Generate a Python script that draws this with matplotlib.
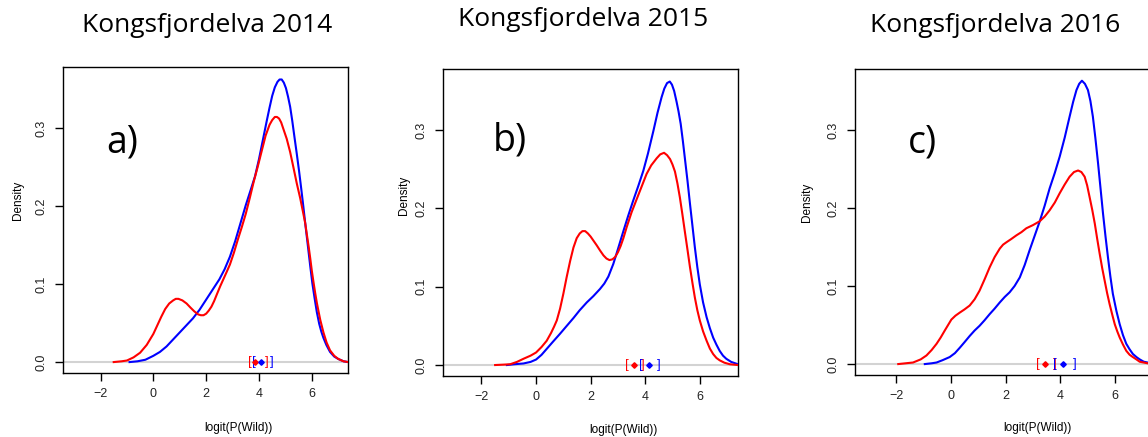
import matplotlib
matplotlib.use("Agg")
import matplotlib.pyplot as plt

W, H = 1148, 437

titles = ["Kongsfjordelva 2014", "Kongsfjordelva 2015", "Kongsfjordelva 2016"]
panel_tags = ["a)", "b)", "c)"]

# density curves (x, density)
blue_a_x = [-0.9, -0.6, -0.3, 0.0, 0.25, 0.5, 0.75, 1.0, 1.25, 1.5, 1.75, 2.0, 2.25, 2.5, 2.7,
            2.9, 3.1, 3.3, 3.5, 3.7, 3.85, 4.0, 4.15, 4.3, 4.4, 4.5, 4.6, 4.7, 4.78, 4.86, 4.94,
            5.02, 5.1, 5.18, 5.26, 5.34, 5.43, 5.52, 5.6, 5.68, 5.76, 5.84, 5.94, 6.02, 6.1,
            6.19, 6.28, 6.36, 6.44, 6.55, 6.69, 6.85, 7.0, 7.2, 7.38]
blue_a_y = [0.0, 0.001, 0.003, 0.008, 0.013, 0.020, 0.029, 0.038, 0.047, 0.056, 0.067, 0.080,
            0.093, 0.106, 0.119, 0.135, 0.155, 0.178, 0.201, 0.222, 0.238, 0.260, 0.285, 0.310,
            0.326, 0.341, 0.352, 0.359, 0.362, 0.362, 0.358, 0.351, 0.340, 0.327, 0.309, 0.289,
            0.267, 0.244, 0.222, 0.199, 0.175, 0.152, 0.123, 0.101, 0.083, 0.064, 0.049, 0.039,
            0.031, 0.022, 0.013, 0.007, 0.004, 0.001, 0.0]
red_a_x = [-1.5, -1.2, -1.0, -0.75, -0.5, -0.25, 0.0, 0.15, 0.3, 0.45, 0.6, 0.75, 0.85, 0.95,
           1.1, 1.26, 1.4, 1.55, 1.7, 1.8, 1.9, 2.0, 2.1, 2.2, 2.3, 2.42, 2.53, 2.65, 2.77, 2.9,
           3.05, 3.2, 3.35, 3.5, 3.65, 3.8, 3.95, 4.1, 4.25, 4.4, 4.5, 4.6, 4.68, 4.76, 4.84,
           4.92, 5.05, 5.18, 5.3, 5.43, 5.56, 5.68, 5.75, 5.81, 5.88, 5.94, 6.0, 6.07, 6.13,
           6.19, 6.26, 6.32, 6.44, 6.56, 6.69, 6.85, 7.0, 7.2, 7.38]
red_a_y = [0.0, 0.001, 0.002, 0.006, 0.012, 0.022, 0.036, 0.047, 0.058, 0.068, 0.075, 0.079,
           0.081, 0.081, 0.079, 0.075, 0.070, 0.065, 0.061, 0.060, 0.060, 0.062, 0.066, 0.071,
           0.078, 0.088, 0.097, 0.106, 0.115, 0.125, 0.140, 0.157, 0.173, 0.190, 0.210, 0.231,
           0.250, 0.270, 0.290, 0.304, 0.310, 0.314, 0.314, 0.312, 0.307, 0.299, 0.286, 0.269,
           0.250, 0.229, 0.210, 0.190, 0.178, 0.164, 0.148, 0.133, 0.117, 0.101, 0.088, 0.076,
           0.064, 0.054, 0.038, 0.025, 0.015, 0.008, 0.004, 0.001, 0.0]

blue_b_x = [-1.07, -0.8, -0.46, -0.2, 0.0, 0.2, 0.4, 0.6, 0.88, 1.1, 1.37, 1.6, 1.86, 2.1,
            2.34, 2.5, 2.65, 2.83, 3.0, 3.2, 3.38, 3.56, 3.75, 3.93, 4.1, 4.3, 4.45, 4.6, 4.7,
            4.8, 4.9, 4.98, 5.06, 5.15, 5.22, 5.3, 5.38, 5.45, 5.55, 5.64, 5.73, 5.82, 5.91, 6.0,
            6.12, 6.25, 6.37, 6.49, 6.61, 6.73, 6.85, 6.97, 7.15, 7.4]
blue_b_y = [0.0, 0.001, 0.002, 0.004, 0.007, 0.013, 0.021, 0.029, 0.040, 0.049, 0.060, 0.070,
            0.080, 0.088, 0.097, 0.104, 0.113, 0.129, 0.148, 0.171, 0.191, 0.210, 0.229, 0.248,
            0.270, 0.299, 0.322, 0.342, 0.353, 0.360, 0.362, 0.358, 0.350, 0.336, 0.324, 0.308,
            0.286, 0.265, 0.235, 0.206, 0.178, 0.150, 0.125, 0.103, 0.080, 0.061, 0.047, 0.035,
            0.026, 0.018, 0.012, 0.008, 0.004, 0.001]
red_b_x = [-1.5, -1.2, -0.95, -0.7, -0.46, -0.2, 0.0, 0.2, 0.39, 0.55, 0.66, 0.76, 0.88, 1.0,
           1.12, 1.25, 1.37, 1.49, 1.6, 1.7, 1.8, 1.9, 2.0, 2.1, 2.22, 2.35, 2.47, 2.58, 2.69,
           2.8, 2.9, 3.0, 3.1, 3.2, 3.32, 3.5, 3.69, 3.87, 4.05, 4.22, 4.42, 4.55, 4.69, 4.8,
           4.91, 5.0, 5.09, 5.18, 5.27, 5.36, 5.45, 5.55, 5.64, 5.73, 5.82, 5.91, 6.0, 6.12,
           6.25, 6.37, 6.49, 6.61, 6.73, 6.9, 7.1, 7.4]
red_b_y = [0.0, 0.0005, 0.001, 0.004, 0.008, 0.012, 0.016, 0.023, 0.031, 0.041, 0.049, 0.057,
           0.072, 0.091, 0.112, 0.133, 0.150, 0.162, 0.168, 0.171, 0.171, 0.168, 0.164, 0.159,
           0.153, 0.146, 0.140, 0.136, 0.134, 0.135, 0.138, 0.144, 0.152, 0.162, 0.176, 0.195,
           0.212, 0.228, 0.244, 0.255, 0.264, 0.269, 0.271, 0.268, 0.263, 0.256, 0.247, 0.232,
           0.214, 0.193, 0.171, 0.147, 0.125, 0.105, 0.086, 0.070, 0.057, 0.043, 0.031, 0.021,
           0.014, 0.009, 0.006, 0.003, 0.001, 0.0]

blue_c_x = [-0.95, -0.7, -0.52, -0.3, -0.04, 0.15, 0.33, 0.5, 0.69, 0.87, 1.05, 1.23, 1.42,
            1.6, 1.79, 1.97, 2.15, 2.33, 2.52, 2.7, 2.88, 3.07, 3.25, 3.43, 3.61, 3.8, 3.98,
            4.16, 4.34, 4.47, 4.59, 4.69, 4.79, 4.9, 5.01, 5.1, 5.19, 5.28, 5.38, 5.47, 5.56,
            5.65, 5.74, 5.83, 5.92, 6.05, 6.17, 6.29, 6.41, 6.53, 6.65, 6.78, 6.9, 7.05, 7.19,
            7.4]
blue_c_y = [0.0, 0.001, 0.002, 0.005, 0.009, 0.014, 0.021, 0.028, 0.036, 0.043, 0.049, 0.056,
            0.064, 0.071, 0.079, 0.086, 0.092, 0.100, 0.111, 0.127, 0.146, 0.165, 0.183, 0.203,
            0.225, 0.245, 0.266, 0.290, 0.317, 0.336, 0.351, 0.359, 0.363, 0.359, 0.351, 0.337,
            0.317, 0.290, 0.257, 0.225, 0.193, 0.164, 0.137, 0.112, 0.090, 0.068, 0.051, 0.037,
            0.026, 0.019, 0.013, 0.009, 0.006, 0.003, 0.002, 0.0]
red_c_x = [-1.92, -1.65, -1.38, -1.1, -0.89, -0.7, -0.52, -0.37, -0.22, -0.1, 0.02, 0.17, 0.33,
           0.5, 0.69, 0.87, 1.05, 1.24, 1.42, 1.6, 1.79, 1.91, 2.03, 2.2, 2.4, 2.58, 2.76, 3.0,
           3.25, 3.43, 3.61, 3.8, 3.98, 4.16, 4.34, 4.5, 4.65, 4.77, 4.89, 4.98, 5.07, 5.17,
           5.26, 5.35, 5.44, 5.53, 5.62, 5.71, 5.8, 5.9, 5.99, 6.08, 6.17, 6.29, 6.41, 6.53,
           6.65, 6.78, 6.9, 7.19, 7.4]
red_c_y = [0.0, 0.001, 0.002, 0.006, 0.011, 0.018, 0.026, 0.034, 0.043, 0.050, 0.057, 0.062,
           0.066, 0.070, 0.075, 0.083, 0.094, 0.109, 0.124, 0.137, 0.148, 0.153, 0.156, 0.160,
           0.165, 0.169, 0.174, 0.178, 0.183, 0.189, 0.197, 0.207, 0.219, 0.230, 0.240, 0.246,
           0.248, 0.246, 0.240, 0.229, 0.214, 0.197, 0.180, 0.160, 0.141, 0.123, 0.107, 0.091,
           0.077, 0.063, 0.051, 0.042, 0.034, 0.025, 0.017, 0.012, 0.009, 0.006, 0.003, 0.001,
           0.0]

# interval markers on the baseline: (left bracket, point, right bracket)
red_iv = [(3.64, 3.86, 4.28), (3.33, 3.58, 3.91), (3.19, 3.44, 3.78)]
blue_iv = [(3.79, 4.09, 4.50), (3.84, 4.13, 4.50), (3.81, 4.11, 4.52)]

curves = [(blue_a_x, blue_a_y, red_a_x, red_a_y),
          (blue_b_x, blue_b_y, red_b_x, red_b_y),
          (blue_c_x, blue_c_y, red_c_x, red_c_y)]

# axes boxes in pixels: left, top, right, bottom
boxes = [(63, 67, 348, 373), (443, 69, 738, 376), (855, 69, 1152, 375)]
xlims = [(-3.42, 7.37), (-3.41, 7.40), (-3.50, 7.35)]
title_pos = [(207, 25), (583, 20), (995, 25)]
tag_pos = [(122, 142), (510, 140), (922, 142)]
ylab_pos = [(18, 200), (404, 195), (807, 202)]
xlab_pos = [(238, 428), (623, 430), (1037, 428)]

fig = plt.figure(figsize=(W / 100, H / 100), dpi=100)
tick_font = "Liberation Sans"
title_font = "Open Sans"

for i in range(3):
    l, t, r, b = boxes[i]
    ax = fig.add_axes([l / W, 1 - b / H, (r - l) / W, (b - t) / H])
    bx, by, rx, ry = curves[i]
    ax.axhline(0, color="#d3d3d3", lw=1.5, zorder=1)
    ax.plot(bx, by, color="blue", lw=1.5, zorder=3, solid_joinstyle="round")
    ax.plot(rx, ry, color="red", lw=1.5, zorder=4, solid_joinstyle="round")

    for iv, col in ((red_iv[i], "red"), (blue_iv[i], "blue")):
        lo, mid, hi = iv
        ax.text(lo, 0, "[", color=col, ha="center", va="center", fontsize=9.5,
                family=tick_font, zorder=5)
        ax.text(hi, 0, "]", color=col, ha="center", va="center", fontsize=9.5,
                family=tick_font, zorder=5)
        ax.plot([mid], [0], marker="D", ms=2.8, color=col, zorder=6)

    ax.set_xlim(*xlims[i])
    ax.set_ylim(-0.014, 0.378)
    ax.set_xticks([-2, 0, 2, 4, 6])
    ax.set_yticks([0.0, 0.1, 0.2, 0.3])
    ax.set_yticklabels(["0.0", "0.1", "0.2", "0.3"], rotation=90, va="center")
    ax.tick_params(direction="out", length=6, width=1, labelsize=9, pad=5)
    for lab in ax.get_xticklabels() + ax.get_yticklabels():
        lab.set_family(tick_font)
        lab.set_color("#222222")
    for sp in ax.spines.values():
        sp.set_linewidth(1)
        sp.set_color("black")

    tx, ty = title_pos[i]
    fig.text(tx / W, 1 - ty / H, titles[i], ha="center", va="center", fontsize=19,
             family=title_font)
    gx, gy = tag_pos[i]
    fig.text(gx / W, 1 - gy / H, panel_tags[i], ha="center", va="center", fontsize=27,
             family=title_font)
    yx, yy = ylab_pos[i]
    fig.text(yx / W, 1 - yy / H, "Density", rotation=90, ha="center", va="center",
             fontsize=8.5, family=tick_font)
    lx, ly = xlab_pos[i]
    fig.text(lx / W, 1 - ly / H, "logit(P(Wild))", ha="center", va="center",
             fontsize=8.5, family=tick_font)

fig.savefig("out.png", dpi=100)
